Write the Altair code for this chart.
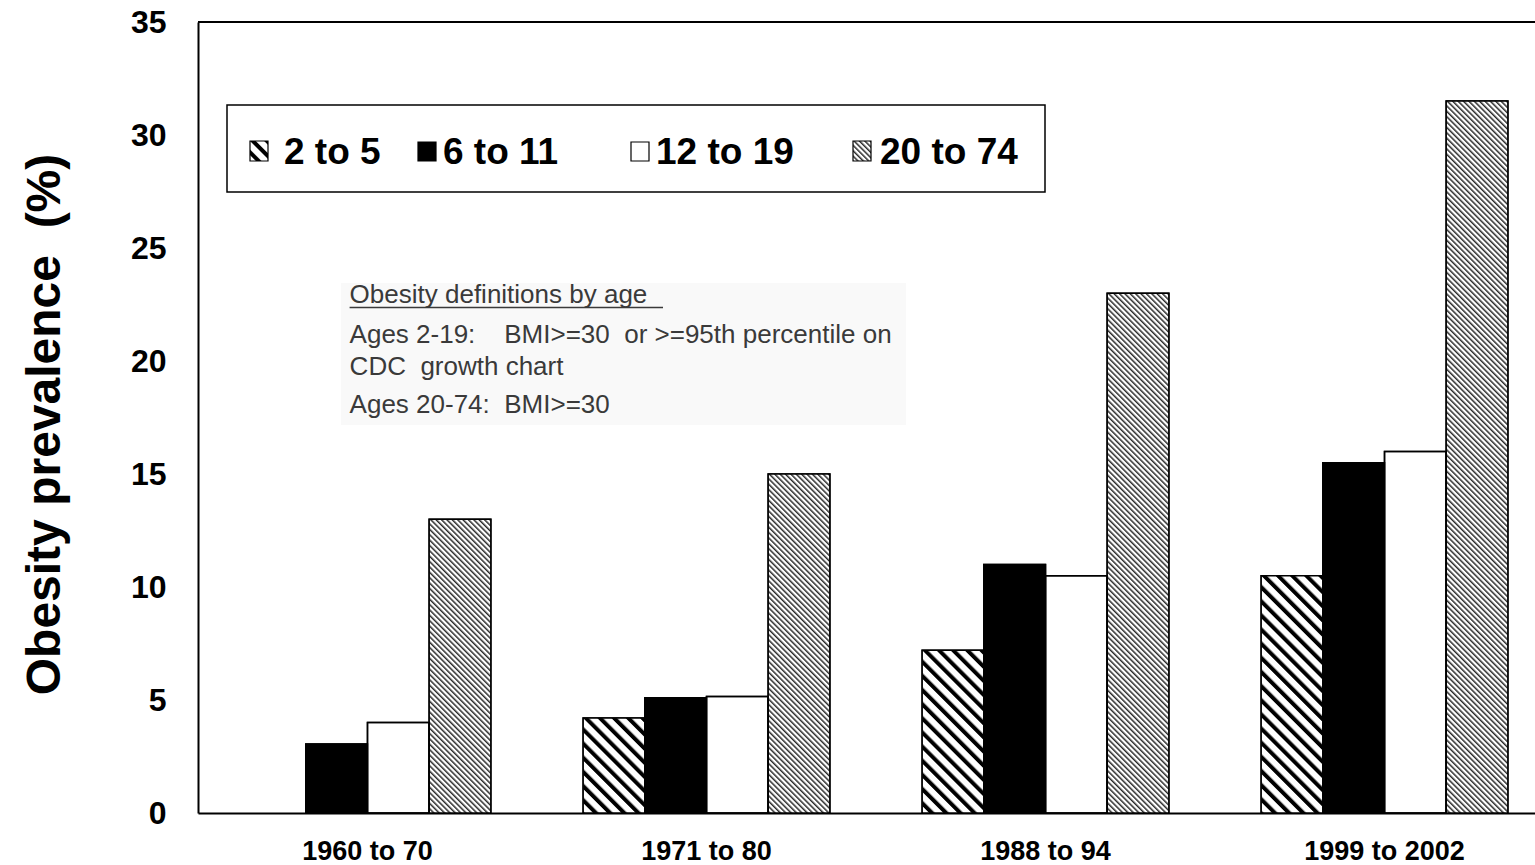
import urllib.parse

import altair as alt
import pandas as pd

# ---- data -------------------------------------------------------------
periods = ["1960 to 70", "1971 to 80", "1988 to 94", "1999 to 2002"]
ages = ["2 to 5", "6 to 11", "12 to 19", "20 to 74"]

# obesity prevalence (%) for each survey period; None = no estimate
prev_2_5 = [None, 4.2, 7.2, 10.5]
prev_6_11 = [3.05, 5.1, 11.0, 15.5]
prev_12_19 = [4.0, 5.15, 10.5, 16.0]
prev_20_74 = [13.0, 15.0, 23.0, 31.5]

note_title = "Obesity definitions by age"
note_lines = [
    "Ages 2-19:\u00a0\u00a0\u00a0\u00a0BMI>=30\u00a0\u00a0or >=95th percentile on",
    "CDC\u00a0\u00a0growth chart",
    "Ages 20-74:\u00a0\u00a0BMI>=30",
]

series = {
    "2 to 5": prev_2_5,
    "6 to 11": prev_6_11,
    "12 to 19": prev_12_19,
    "20 to 74": prev_20_74,
}
rows = []
for age, vals in series.items():
    for period, v in zip(periods, vals):
        if v is not None:
            rows.append({"period": period, "age": age, "value": v})
df = pd.DataFrame(rows)

# ---- layout -----------------------------------------------------------
FONT = "Liberation Sans"
LEFT, TOP = 198, 22          # plot origin on the page
W, H = 1337, 791             # visible plot area
BAND_RANGE = 1356            # band scale runs a little past the right edge


def hatch_url(period, thickness, color):
    svg = (
        "<svg xmlns='http://www.w3.org/2000/svg' width='100%' height='100%'>"
        f"<defs><pattern id='h' width='{period}' height='{period}' "
        "patternUnits='userSpaceOnUse' patternTransform='rotate(-45)'>"
        f"<rect width='{thickness}' height='{period}' fill='{color}'/>"
        "</pattern></defs>"
        "<rect width='100%' height='100%' fill='white'/>"
        "<rect width='100%' height='100%' fill='url(#h)'/></svg>"
    )
    return "data:image/svg+xml;charset=utf-8," + urllib.parse.quote(svg)


wide_hatch = hatch_url(10, 4, "black")
fine_hatch = hatch_url(3.8, 1.5, "#2a2a2a")
hatch_for = {"2 to 5": wide_hatch, "20 to 74": fine_hatch}

x_enc = alt.X(
    "period:N",
    sort=periods,
    scale=alt.Scale(range=[0, BAND_RANGE], paddingInner=0.2723, paddingOuter=0.1361),
    axis=alt.Axis(
        title=None, labelAngle=0, ticks=False, labelPadding=25,
        labelFontSize=27, labelFontWeight="bold",
        domain=True, domainColor="black", domainWidth=2,
    ),
)
xo_enc = alt.XOffset(
    "age:N", sort=ages, scale=alt.Scale(domain=ages, paddingInner=0, paddingOuter=0)
)
y_enc = alt.Y(
    "value:Q",
    scale=alt.Scale(domain=[0, 35], nice=False, zero=True),
    axis=alt.Axis(
        title="Obesity prevalence\u00a0\u00a0(%)",
        values=list(range(0, 36, 5)),
        grid=False, ticks=False, labelPadding=32,
        labelFontSize=32, labelFontWeight="bold",
        domain=True, domainColor="black", domainWidth=2,
        titleFontSize=48, titleFontWeight="bold",
        titleAngle=270, titleAlign="center", titleBaseline="middle",
        titleX=45 - LEFT, titleY=424 - TOP,
    ),
)

base = alt.Chart(df).encode(x=x_enc, xOffset=xo_enc, y=y_enc)

bars = base.mark_bar(stroke="black", strokeWidth=1.5).encode(
    fill=alt.Fill(
        "age:N",
        scale=alt.Scale(domain=ages, range=["white", "black", "white", "white"]),
        legend=None,
    )
)

hatch_layers = [
    base.transform_filter(alt.datum.age == age)
    .mark_image(aspect=False)
    .encode(y2=alt.datum(0), url=alt.value(url))
    for age, url in hatch_for.items()
]

outline = base.mark_bar(fill="transparent", stroke="black", strokeWidth=1.5)

one = pd.DataFrame({"k": [0]})

top_border = alt.Chart(one).mark_rule(stroke="black", strokeWidth=2).encode(
    y=alt.datum(35), x=alt.value(0), x2=alt.value(W)
)


def page_rect(x0, y0, x1, y1, **mark):
    return alt.Chart(one).mark_rect(**mark).encode(
        x=alt.value(x0 - LEFT), x2=alt.value(x1 - LEFT),
        y=alt.value(y0 - TOP), y2=alt.value(y1 - TOP),
    )


def page_image(x0, y0, x1, y1, url):
    return alt.Chart(one).mark_image(aspect=False).encode(
        x=alt.value(x0 - LEFT), x2=alt.value(x1 - LEFT),
        y=alt.value(y0 - TOP), y2=alt.value(y1 - TOP),
        url=alt.value(url),
    )


def page_text(x, y, text, **mark):
    return alt.Chart(one).mark_text(
        text=text, align="left", baseline="alphabetic", font=FONT, **mark
    ).encode(x=alt.value(x - LEFT), y=alt.value(y - TOP))


# ---- legend box --------------------------------------------------------
legend_layers = [page_rect(227, 105, 1045, 192, fill="white", stroke="black", strokeWidth=1.5)]
sym_x = {"2 to 5": 250, "6 to 11": 418, "12 to 19": 631, "20 to 74": 853}
txt_x = {"2 to 5": 284, "6 to 11": 443, "12 to 19": 656, "20 to 74": 880}
sym_fill = {"6 to 11": "black", "12 to 19": "white"}
for age in ages:
    sx = sym_x[age]
    if age in hatch_for:
        legend_layers.append(page_image(sx, 141, sx + 18, 161, hatch_for[age]))
        legend_layers.append(page_rect(sx, 141, sx + 18, 161, fill="transparent",
                                       stroke="black", strokeWidth=1.2))
    else:
        legend_layers.append(page_rect(sx, 142, sx + 18, 161, fill=sym_fill[age],
                                       stroke="black", strokeWidth=1.2))
    legend_layers.append(page_text(txt_x[age], 163.5, age, fontSize=37,
                                   fontWeight="bold", color="black"))

# ---- definitions note --------------------------------------------------
note_color = "#3a3a3a"
note_layers = [
    page_rect(341, 283, 906, 425, fill="#f9f9f9"),
    page_text(349.6, 303, note_title, fontSize=26, color=note_color),
    alt.Chart(one).mark_rule(stroke=note_color, strokeWidth=1.5).encode(
        x=alt.value(349.6 - LEFT), x2=alt.value(663 - LEFT),
        y=alt.value(307.5 - TOP),
    ),
]
for yb, line in zip([342.5, 375, 413], note_lines):
    note_layers.append(page_text(349.6, yb, line, fontSize=26, color=note_color))

chart = (
    alt.layer(bars, *hatch_layers, outline, top_border, *legend_layers, *note_layers)
    .properties(
        width=W,
        height=H,
        padding={"left": LEFT, "top": TOP, "right": 0, "bottom": 865 - TOP - H},
        autosize=alt.AutoSizeParams(type="none"),
        background="white",
    )
    .configure_view(stroke="transparent")
    .configure_axis(labelFont=FONT, titleFont=FONT, labelColor="black", titleColor="black")
)

chart.save("out.html", embed_options={"renderer": "svg", "actions": False})
